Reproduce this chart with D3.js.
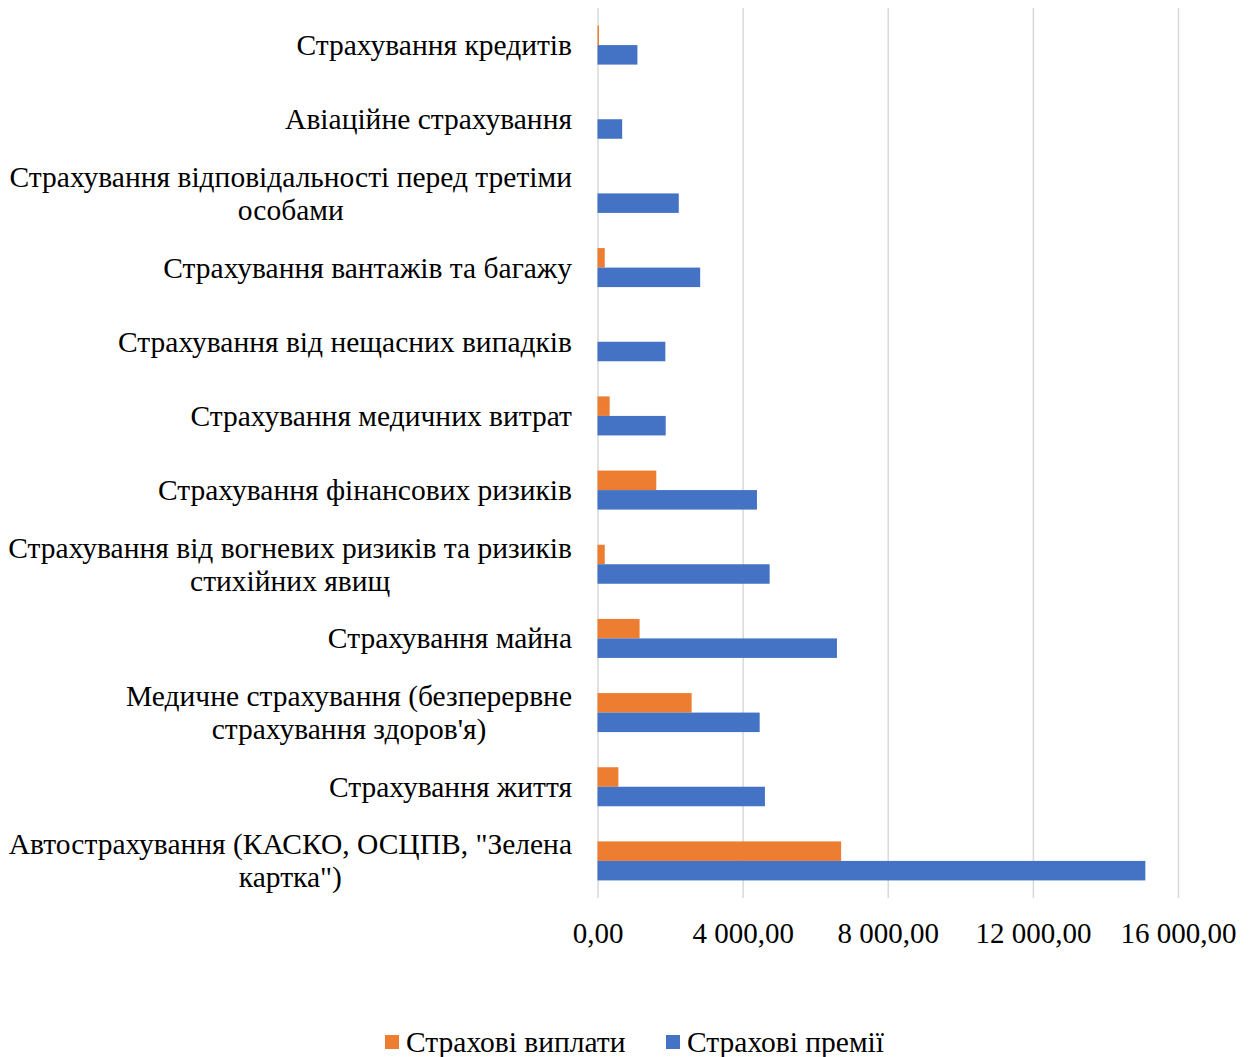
<!DOCTYPE html>
<html>
<head>
<meta charset="utf-8">
<script src="https://cdn.jsdelivr.net/npm/d3@7"></script>
<style>
  body { margin: 0; background: #fff; }
  svg text { font-family: "Liberation Serif", "Times New Roman", serif; fill: #000; }
</style>
</head>
<body>
<svg id="chart" width="1251" height="1057"></svg>
<script>
// categories from top to bottom
const categories = [
  'Страхування кредитів',
  'Авіаційне страхування',
  'Страхування відповідальності перед третіми особами',
  'Страхування вантажів та багажу',
  'Страхування від нещасних випадків',
  'Страхування медичних витрат',
  'Страхування фінансових ризиків',
  'Страхування від вогневих ризиків та ризиків стихійних явищ',
  'Страхування майна',
  "Медичне страхування (безперервне страхування здоров'я)",
  'Страхування життя',
  'Автострахування (КАСКО, ОСЦПВ, "Зелена картка")'
];
const payouts = [40, 0, 0, 200, 0, 335, 1620, 200, 1160, 2595, 575, 6715];
const premiums = [1100, 680, 2240, 2830, 1870, 1880, 4395, 4745, 6600, 4470, 4615, 15100];
const seriesNames = ['Страхові виплати', 'Страхові премії'];
const xTicks = [0, 4000, 8000, 12000, 16000];
const colors = ['#ED7D31', '#4472C4'];

const margin = { top: 8, right: 73, bottom: 159, left: 597.5 };
const svg = d3.select('#chart');
const width = 1251 - margin.left - margin.right;
const height = 1057 - margin.top - margin.bottom;

const g = svg.append('g')
  .attr('transform', `translate(${margin.left}, ${margin.top})`);

const x = d3.scaleLinear().domain([0, 16000]).range([0, width]);
const y = d3.scaleBand().domain(categories).range([0, height]).paddingInner(0).paddingOuter(0);
const yInner = d3.scaleBand().domain(seriesNames).range([0, 39]);
const groupOffset = (y.bandwidth() - 39) / 2;

// grid lines
g.append('g')
  .attr('class', 'grid')
  .call(d3.axisBottom(x).tickValues(xTicks).tickSize(height).tickFormat(''))
  .call(s => s.select('.domain').remove())
  .selectAll('line')
  .attr('stroke', '#d9d9d9')
  .attr('stroke-width', 1.5);

// bars
const rows = categories.map((c, i) => ({ c, vals: [payouts[i], premiums[i]] }));
const grp = g.selectAll('.cat')
  .data(rows)
  .enter()
  .append('g')
  .attr('transform', d => `translate(0, ${y(d.c) + groupOffset})`);

grp.selectAll('rect')
  .data(d => d.vals.map((v, k) => ({ s: seriesNames[k], v, k })))
  .enter()
  .append('rect')
  .attr('x', x(0))
  .attr('y', d => yInner(d.s))
  .attr('width', d => x(d.v) - x(0))
  .attr('height', yInner.bandwidth())
  .attr('fill', d => colors[d.k]);

// x axis labels
const fmt = v => {
  const s = d3.format(',.2f')(v);
  return s.replace(/,/g, ' ').replace('.', ',');
};
g.append('g')
  .attr('transform', `translate(0, ${height})`)
  .call(d3.axisBottom(x).tickValues(xTicks).tickSize(0).tickPadding(24).tickFormat(fmt))
  .call(s => s.select('.domain').remove())
  .selectAll('text')
  .attr('font-size', 29)
  .attr('font-family', '"Liberation Serif", serif')
  .attr('fill', '#000');

// category labels with wrapping
const maxW = 568;
const labelX = -25.5;
const lineH = 33;
const lab = g.append('g').attr('font-size', 29.5);
categories.forEach(c => {
  const words = c.split(' ');
  const t = lab.append('text').attr('visibility', 'hidden');
  const lines = [];
  let cur = [];
  words.forEach(w => {
    const test = cur.concat(w).join(' ');
    t.text(test);
    if (t.node().getComputedTextLength() > maxW && cur.length) {
      lines.push(cur.join(' '));
      cur = [w];
    } else {
      cur.push(w);
    }
  });
  lines.push(cur.join(' '));
  t.remove();
  const widths = lines.map(l => {
    const tt = lab.append('text').text(l);
    const w = tt.node().getComputedTextLength();
    tt.remove();
    return w;
  });
  const blockW = d3.max(widths);
  const cy = y(c) + y.bandwidth() / 2;
  const text = lab.append('text')
    .attr('text-anchor', 'middle')
    .attr('dominant-baseline', 'central');
  lines.forEach((l, i) => {
    text.append('tspan')
      .attr('x', labelX - blockW / 2)
      .attr('y', cy + (i - (lines.length - 1) / 2) * lineH)
      .text(l);
  });
});

// legend
const legend = svg.append('g').attr('transform', 'translate(385, 1042)');
const items = legend.selectAll('g')
  .data(seriesNames)
  .enter()
  .append('g')
  .attr('transform', (d, i) => `translate(${i * 281}, 0)`);
items.append('rect')
  .attr('x', 0).attr('y', -7)
  .attr('width', 14).attr('height', 14)
  .attr('fill', (d, i) => colors[i]);
items.append('text')
  .attr('x', 21)
  .attr('y', 0)
  .attr('dominant-baseline', 'central')
  .attr('font-size', 29.5)
  .text(d => d);
</script>
</body>
</html>
